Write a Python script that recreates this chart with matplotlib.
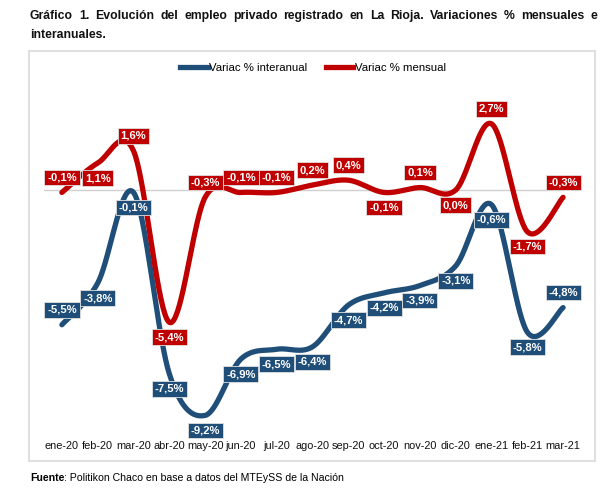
import matplotlib.pyplot as plt
import numpy as np
from matplotlib.lines import Line2D
from matplotlib.patches import Rectangle

plt.rcParams["font.family"] = ["Liberation Sans", "DejaVu Sans"]

months = ["ene-20", "feb-20", "mar-20", "abr-20", "may-20", "jun-20", "jul-20",
          "ago-20", "sep-20", "oct-20", "nov-20", "dic-20", "ene-21", "feb-21", "mar-21"]
interanual = [-5.5, -3.8, -0.1, -7.5, -9.2, -6.9, -6.5, -6.4, -4.7, -4.2, -3.9, -3.1, -0.6, -5.8, -4.8]
mensual = [-0.1, 1.1, 1.6, -5.4, -0.3, -0.1, -0.1, 0.2, 0.4, -0.1, 0.1, 0.0, 2.7, -1.7, -0.3]

# label side per point: +1 above, -1 below
side_inter = [1] + [-1] * 13 + [1]
side_mens = [1, -1, 1, -1, 1, 1, 1, 1, 1, -1, 1, -1, 1, -1, 1]

BLUE = "#1f4e79"
RED = "#c00000"
W, H = 612, 492


def smooth(x, y, n=40):
    # excel-like bezier smoothing (catmull-rom control points)
    x = np.asarray(x, float)
    y = np.asarray(y, float)
    px = np.concatenate([[x[0]], x, [x[-1]]])
    py = np.concatenate([[y[0]], y, [y[-1]]])
    xs, ys = [], []
    t = np.linspace(0, 1, n)
    for i in range(len(x) - 1):
        p0 = np.array([px[i + 1], py[i + 1]])
        p3 = np.array([px[i + 2], py[i + 2]])
        p1 = p0 + (p3 - np.array([px[i], py[i]])) / 6
        p2 = p3 - (np.array([px[i + 3], py[i + 3]]) - p0) / 6
        b = ((1 - t) ** 3)[:, None] * p0 + (3 * (1 - t) ** 2 * t)[:, None] * p1 \
            + (3 * (1 - t) * t ** 2)[:, None] * p2 + (t ** 3)[:, None] * p3
        xs.append(b[:, 0])
        ys.append(b[:, 1])
    return np.concatenate(xs), np.concatenate(ys)


def fmt(v):
    return f"{v:.1f}".replace(".", ",") + "%"


fig = plt.figure(figsize=(W / 100, H / 100), dpi=100)

# outer frame
fig.add_artist(Rectangle((29 / W, 1 - 461 / H), 566 / W, 410 / H, transform=fig.transFigure,
                         fill=False, edgecolor="#d9d9d9", lw=1.2))

ax = fig.add_axes([44 / W, 1 - 435 / H, (581 - 44) / W, (435 - 85) / H])
x = np.arange(len(months))
ax.set_xlim(-0.5, len(months) - 0.5)
ax.set_ylim(-(435 - 190) / 24.5, (190 - 85) / 24.5)
ax.plot([-0.55, len(months) - 1], [0, 0], color="#d0d0d0", lw=1, zorder=1)

for vals, color, sides in ((interanual, BLUE, side_inter), (mensual, RED, side_mens)):
    sx, sy = smooth(x, vals)
    ax.plot(sx, sy, color=color, lw=3.8, solid_capstyle="round", zorder=2)
    for xi, v, s in zip(x, vals, sides):
        ax.annotate(fmt(v), (xi, v), xytext=(0, 15 * s), textcoords="offset pixels",
                    ha="center", va="center", color="white", fontsize=8.1, fontweight="bold",
                    annotation_clip=False, zorder=5,
                    bbox=dict(boxstyle="square,pad=0.25", fc=color, ec="#e0e0e0", lw=0.6))

for sp in ax.spines.values():
    sp.set_visible(False)
ax.set_yticks([])
ax.set_xticks(x)
ax.set_xticklabels(months, fontsize=7.9, color="#111111")
ax.tick_params(axis="x", length=0, pad=4.5)

handles = [Line2D([], [], color=BLUE, lw=3.8), Line2D([], [], color=RED, lw=3.8)]
fig.legend(handles, ["Variac % interanual", "Variac % mensual"], loc="center",
           bbox_to_anchor=(313 / W, 1 - 68 / H), ncol=2, frameon=False, fontsize=8.2,
           handlelength=2.4, handletextpad=0.15, columnspacing=1.6)

# title, first line justified across frame width
renderer = fig.canvas.get_renderer()
words = "Gráfico 1. Evolución del empleo privado registrado en La Rioja. Variaciones % mensuales e".split()
tkw = dict(fontsize=8.8, fontweight="bold", va="center", color="#111111")
arts = [fig.text(0, 1 - 16 / H, w, **tkw) for w in words]
widths = [a.get_window_extent(renderer).width for a in arts]
gap = ((597 - 30) - sum(widths)) / (len(words) - 1)
pos = 30
for a, wd in zip(arts, widths):
    a.set_x(pos / W)
    pos += wd + gap
fig.text(30 / W, 1 - 35 / H, "interanuales.", **tkw)

# source note
f1 = fig.text(30 / W, 1 - 478 / H, "Fuente", fontsize=7.6, fontweight="bold", va="center")
fw = f1.get_window_extent(renderer).width
fig.text((30 + fw) / W, 1 - 478 / H, ": Politikon Chaco en base a datos del MTEySS de la Nación",
         fontsize=7.6, va="center")

fig.savefig("out.png", dpi=100)
